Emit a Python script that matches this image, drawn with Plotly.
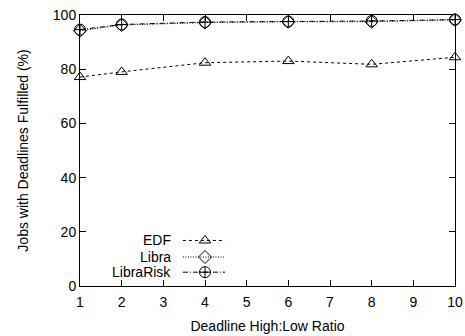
import plotly.graph_objects as go

ratios = [1, 2, 4, 6, 8, 10]
edf = [77.1, 79.0, 82.4, 83.0, 81.8, 84.4]
libra = [94.2, 96.3, 97.2, 97.5, 97.5, 98.2]
librarisk = [94.6, 96.5, 97.4, 97.6, 97.8, 98.3]
series_names = ["EDF", "Libra", "LibraRisk"]
xticks = [1, 2, 3, 4, 5, 6, 7, 8, 9, 10]
yticks = [0, 20, 40, 60, 80, 100]

# legend sample placement (data coords)
leg_x = [3.47, 4.0, 4.48]
leg_y = [16.8, 10.7, 5.1]
leg_text_x = 3.2

styles = [
    dict(dash="3px,3px", symbol="triangle-up-open", size=10),
    dict(dash="1px,1.5px", symbol="diamond-open", size=10),
    dict(dash="5px,2px,1px,2px", symbol="circle-cross-open", size=11),
]
data = [edf, libra, librarisk]

fig = go.Figure()
for name, vals, st in zip(series_names, data, styles):
    fig.add_trace(go.Scatter(
        x=ratios, y=vals, mode="lines+markers", name=name, showlegend=False,
        line=dict(color="black", width=1, dash=st["dash"]),
        marker=dict(symbol=st["symbol"], size=st["size"], color="black",
                    line=dict(color="black", width=1)),
        cliponaxis=False,
    ))

for i, (name, st) in enumerate(zip(series_names, styles)):
    fig.add_trace(go.Scatter(
        x=[leg_x[0], leg_x[2]], y=[leg_y[i]] * 2, mode="lines", showlegend=False,
        line=dict(color="black", width=1, dash=st["dash"]), hoverinfo="skip",
    ))
    fig.add_trace(go.Scatter(
        x=[leg_x[1]], y=[leg_y[i]], mode="markers", showlegend=False,
        marker=dict(symbol=st["symbol"], size=st["size"], color="black",
                    line=dict(color="black", width=1)), hoverinfo="skip",
    ))
    fig.add_annotation(x=leg_text_x, y=leg_y[i], text=name, showarrow=False,
                       xanchor="right", yanchor="middle", height=14, borderpad=0,
                       font=dict(size=14, color="black"))

axis_common = dict(
    showgrid=False, zeroline=False, showline=True, linecolor="black", linewidth=1,
    mirror="ticks", ticks="inside", ticklen=6, tickcolor="black", tickwidth=1,
    tickfont=dict(size=14, color="black"), automargin=False,
)
fig.update_xaxes(range=[1, 10], tickvals=xticks, **axis_common, ticklabelstandoff=3,
                 title=dict(text="Deadline High:Low Ratio", font=dict(size=14, color="black"), standoff=12))
fig.update_yaxes(range=[0, 100], tickvals=yticks, **axis_common,
                 title=dict(text="Jobs with Deadlines Fulfilled (%)", font=dict(size=14, color="black"), standoff=20))

fig.update_layout(
    width=465, height=336,
    margin=dict(l=80, r=10, t=15, b=50),
    plot_bgcolor="white", paper_bgcolor="white",
    font=dict(family="Liberation Sans, Arial, sans-serif", color="black"),
)
fig.write_html("out.html")
